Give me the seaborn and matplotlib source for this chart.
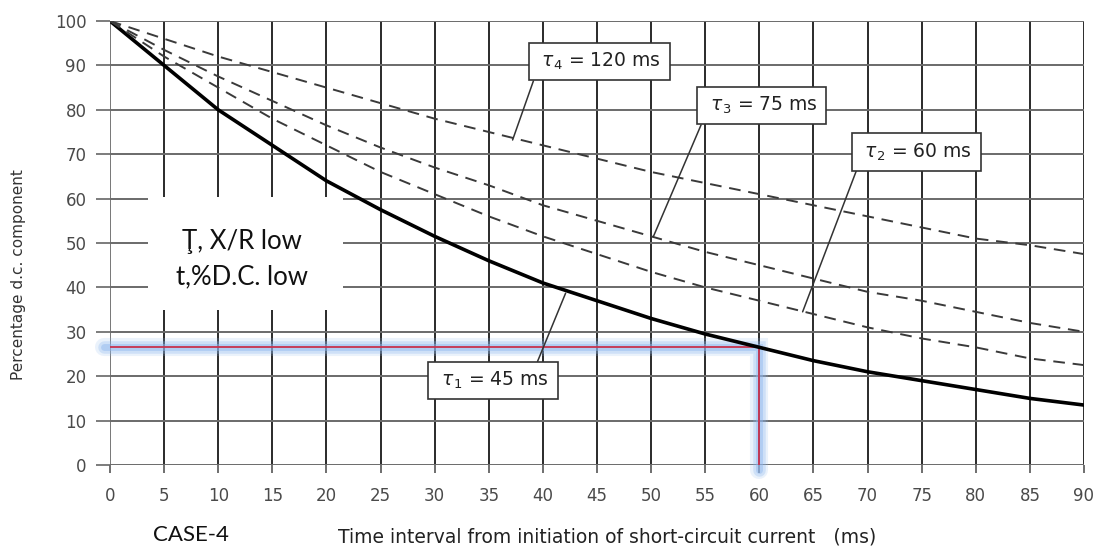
import numpy as np
import pandas as pd
import matplotlib.pyplot as plt
import seaborn as sns
from matplotlib.patches import Rectangle

# time axis (ms) and percentage d.c. component
time_ms = [0, 5, 10, 15, 20, 25, 30, 35, 40, 45, 50, 55, 60, 65, 70, 75, 80, 85, 90]
tau1_45 = [100, 90, 80, 72, 64, 57.5, 51.5, 46, 41, 37, 33, 29.5, 26.5, 23.5, 21, 19, 17, 15, 13.5]
tau2_60 = [100, 92, 85, 78, 72, 66, 61, 56, 51.5, 47.5, 43.5, 40, 37, 34, 31, 28.5, 26.5, 24, 22.5]
tau3_75 = [100, 93.5, 87.5, 82, 76.5, 71.5, 67, 63, 58.5, 55, 51.5, 48, 45, 42, 39, 37, 34.5, 32, 30]
tau4_120 = [100, 96, 92, 88.5, 85, 81.5, 78, 75, 72, 69, 66, 63.5, 61, 58.5, 56, 53.5, 51, 49.5, 47.5]

labels = [r"$\tau_1$ = 45 ms", r"$\tau_2$ = 60 ms", r"$\tau_3$ = 75 ms", r"$\tau_4$ = 120 ms"]
series = [tau1_45, tau2_60, tau3_75, tau4_120]

# highlighted reading
read_t = 60
read_pct = 26.6

df = pd.concat([pd.DataFrame({"t": time_ms, "pct": s, "curve": lab}) for lab, s in zip(labels, series)])

sns.set_style("white")
fig = plt.figure(figsize=(10.99, 5.51), dpi=100)
ax = fig.add_axes([110 / 1099, 1 - 465 / 551, 974 / 1099, 444 / 551])

# grid
for x in range(0, 91, 5):
    ax.axvline(x, color="#2a2a2a" if x else "#777", lw=1.4, zorder=1)
for y in range(0, 101, 10):
    ax.axhline(y, color="#6a6a6a", lw=1.4, zorder=1)

# white area behind the notes
ax.add_patch(Rectangle((3.5, 34.9), 18.0, 25.5, facecolor="white", edgecolor="none", zorder=2))

# highlighted reading with soft glow
for w, a in [(13, 0.18), (9, 0.3), (5, 0.45)]:
    ax.plot([-0.6, read_t, read_t], [read_pct, read_pct, -1.2], color="#8fb8ee", lw=w, alpha=a,
            zorder=3, solid_joinstyle="miter", clip_on=False)
ax.plot([0, read_t, read_t], [read_pct, read_pct, 0], color="#c8324e", lw=1.3, zorder=4)

# curves
sns.lineplot(data=df[df["curve"] == labels[0]], x="t", y="pct", color="black", lw=2.6, ax=ax, zorder=5)
for lab in labels[1:]:
    sns.lineplot(data=df[df["curve"] == lab], x="t", y="pct", color="#3a3a3a", lw=1.4,
                 dashes=False, ax=ax, zorder=5)
for line in ax.lines[-3:]:
    line.set_linestyle((0, (6, 4)))

ax.set_xlim(0, 90)
ax.set_ylim(0, 100)
ax.set_xticks(range(0, 91, 5))
ax.set_yticks(range(0, 101, 10))
ax.tick_params(bottom=True, left=True)
ax.tick_params(axis="x", length=6, width=1.2, color="#555", pad=10, labelsize=12, labelcolor="#4a4a4a")
ax.tick_params(axis="y", length=10, width=1.2, color="#666", pad=7, labelsize=12, labelcolor="#4a4a4a")
for lbl in ax.get_xticklabels() + ax.get_yticklabels():
    lbl.set_fontfamily("DejaVu Sans")
for sp in ax.spines.values():
    sp.set_visible(False)

ax.set_xlabel("Time interval from initiation of short-circuit current   (ms)",
              fontsize=13.5, family="DejaVu Sans", color="#222", va="center")
ax.xaxis.set_label_coords(0.51, -0.162)
ax.set_ylabel("Percentage d.c. component", fontsize=11, family="DejaVu Sans", color="#333", va="center")
ax.yaxis.set_label_coords(-0.094, 0.43)

# callouts
box = dict(boxstyle="square,pad=0.42", fc="white", ec="#333", lw=1.2)
arrow = dict(arrowstyle="-", color="#333", lw=1.1, shrinkA=0, shrinkB=0)
callouts = [
    (labels[3], (45.2, 90.8), (37.2, 73.2), (0, 0)),
    (labels[2], (60.2, 80.9), (50.2, 51.4), (0, 0)),
    (labels[1], (74.5, 70.5), (64.0, 34.5), (0, 0)),
    (labels[0], (35.4, 19.0), (42.1, 38.7), (0.86, 1)),
]
for text, xytext, xy, rel in callouts:
    a = dict(arrow, relpos=rel)
    ax.annotate(" " + text + " ", xy=xy, xytext=xytext, ha="center", va="center", fontsize=13.5,
                family="DejaVu Sans", color="#222", bbox=box, arrowprops=a, zorder=6)

ax.text(12.2, 50.3, "Ţ, X/R low", ha="center", va="center", fontsize=18.5, family="Lato", color="#111", zorder=6)
ax.text(12.2, 42.4, "t,%D.C. low", ha="center", va="center", fontsize=18.5, family="Lato", color="#111", zorder=6)
fig.text(191 / 1099, 1 - 535 / 551, "CASE-4", ha="center", va="center", fontsize=16, family="Lato", color="#111")

fig.savefig("out.png", dpi=100)
